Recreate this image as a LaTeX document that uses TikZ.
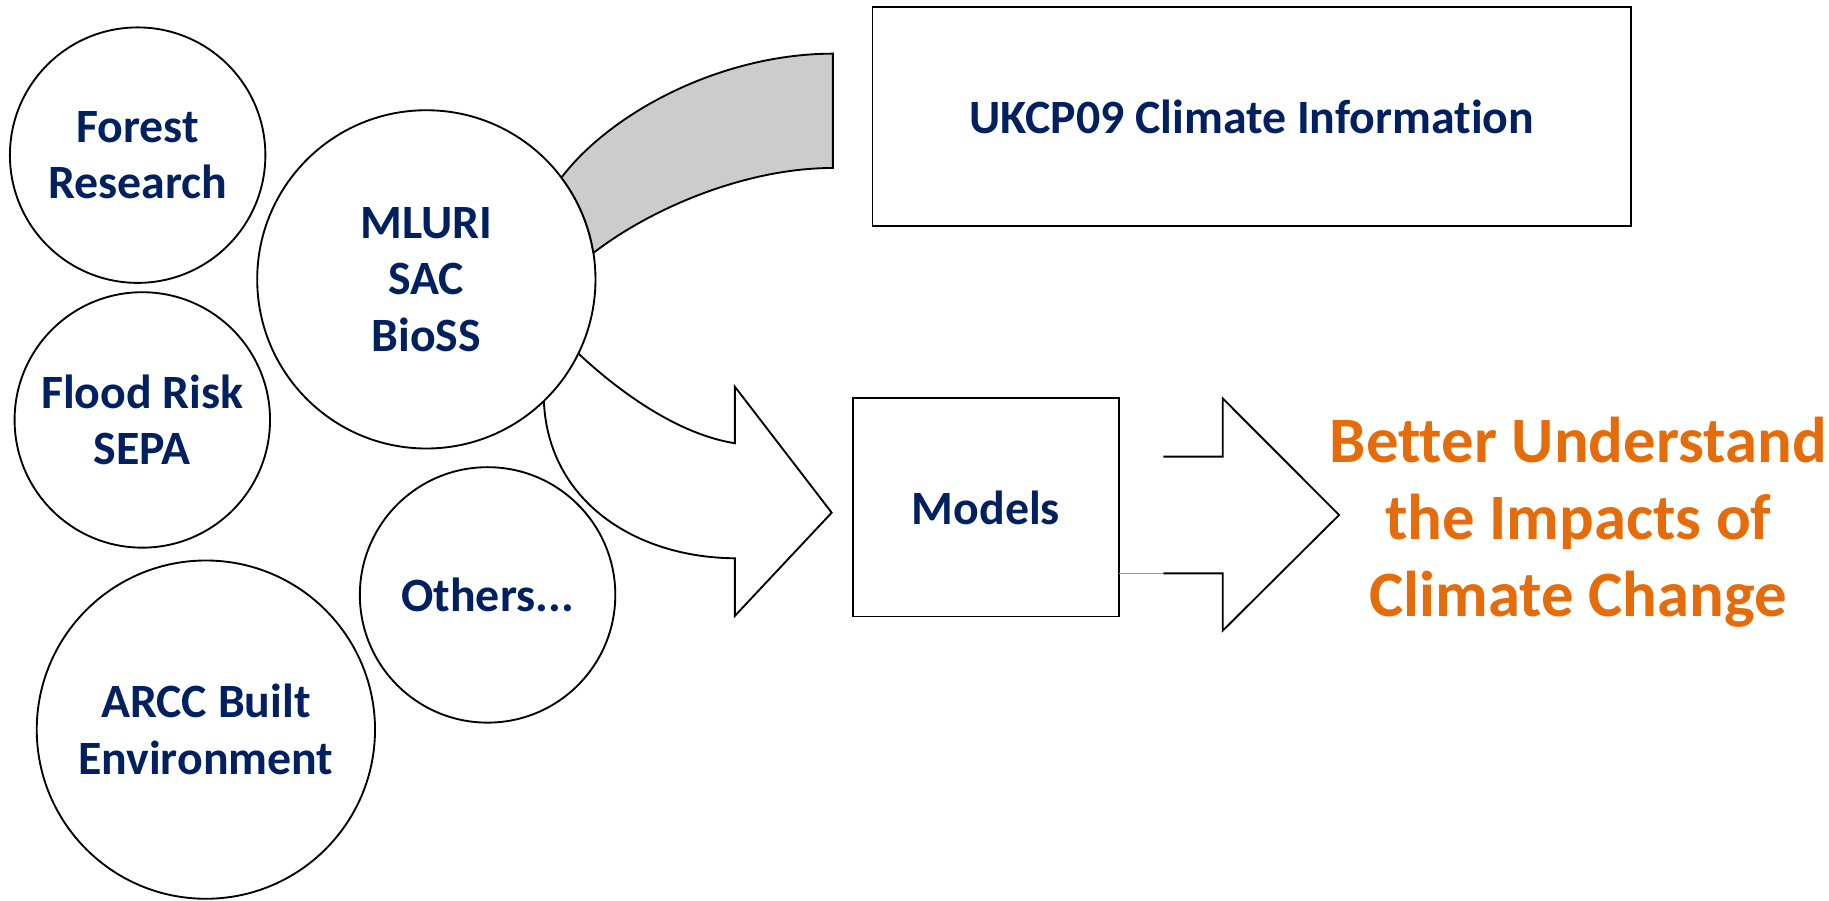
\documentclass[tikz,border=0pt]{standalone}
\usepackage{fontspec}
\setmainfont[Ligatures=NoCommon]{Carlito}
\definecolor{navy}{RGB}{0,32,96}
\definecolor{orangetxt}{RGB}{228,108,10}
\definecolor{bandgray}{RGB}{204,204,204}
\tikzset{
  orgcircle/.style={circle, draw=black, line width=1.6pt, fill=white, inner sep=0pt, outer sep=0pt,
    align=center, text=navy, font=\fontsize{41}{48.5}\selectfont\bfseries},
  smallorg/.style={orgcircle, minimum size=219pt},
  bigorg/.style={orgcircle, minimum size=290pt},
  infobox/.style={rectangle, draw=black, line width=1.6pt, inner sep=0pt, outer sep=0pt,
    align=center, text=navy, font=\fontsize{41}{48.5}\selectfont\bfseries},
  shapeline/.style={draw=black, line width=1.6pt, line join=miter},
  thinline/.style={draw=gray!80, line width=0.8pt}
}
\begin{document}
\begin{tikzpicture}[x=1pt, y=-1pt]
\useasboundingbox (0,0) rectangle (1568,772);

% circles
\node[smallorg] (forest) at (118,133) {Forest\\Research};
\node[smallorg] (flood) at (122,360) {Flood Risk\\SEPA};
\node[bigorg] (mluri) at (365.5,239.5) {MLURI\\SAC\\BioSS};
\node[smallorg] (others) at (418,510) {Others...};
\node[bigorg] (arcc) at (176.5,625.5) {ARCC Built\\Environment};

% boxes
\node[infobox, minimum width=650.6pt, minimum height=187.7pt] (ukcp) at (1073.3,100.2) {UKCP09 Climate Information};
\node[infobox, minimum width=228.3pt, minimum height=187pt] (models) at (845.2,435) {Models};

% result text
\node[align=center, text=orangetxt, font=\fontsize{55.5}{66}\selectfont\bfseries] (result) at (1353,448)
  {Better Understand\\the Impacts of\\Climate Change};

% grey band from MLURI towards UKCP09
\coordinate (bandTR) at (714,46);
\coordinate (bandBR) at (714,144);
\filldraw[shapeline, fill=bandgray] (mluri.9) .. controls (559,178) and (640,144) .. (bandBR)
  -- (bandTR) .. controls (620,46) and (525,95) .. (mluri.37)
  arc[start angle=-37, end angle=-9, radius=145];

% block arrow MLURI -> Models
\coordinate (a1up) at (630,380);
\coordinate (a1top) at (630,331.5);
\coordinate (a1tip) at (713,439.5);
\coordinate (a1bot) at (630,528);
\coordinate (a1low) at (630,478.6);
\draw[shapeline] (mluri.-26) .. controls (530,335) and (580,372) .. (a1up)
  -- (a1top) -- (a1tip) -- (a1bot) -- (a1low)
  .. controls (545,478) and (470,430) .. (mluri.-46);

% block arrow Models -> result
\coordinate (a2ul) at (997.3,391.5);
\coordinate (a2un) at (1048.2,391.5);
\coordinate (a2top) at (1048.2,341.5);
\coordinate (a2tip) at (1148,441.5);
\coordinate (a2bot) at (1048.2,540.7);
\coordinate (a2ln) at (1048.2,491.5);
\coordinate (a2ll) at (997.3,491.5);
\draw[shapeline] (a2ul) -- (a2un) -- (a2top) -- (a2tip) -- (a2bot) -- (a2ln) -- (a2ll);
\draw[thinline] (models.east |- a2ll) -- (a2ll);
\end{tikzpicture}
\end{document}
